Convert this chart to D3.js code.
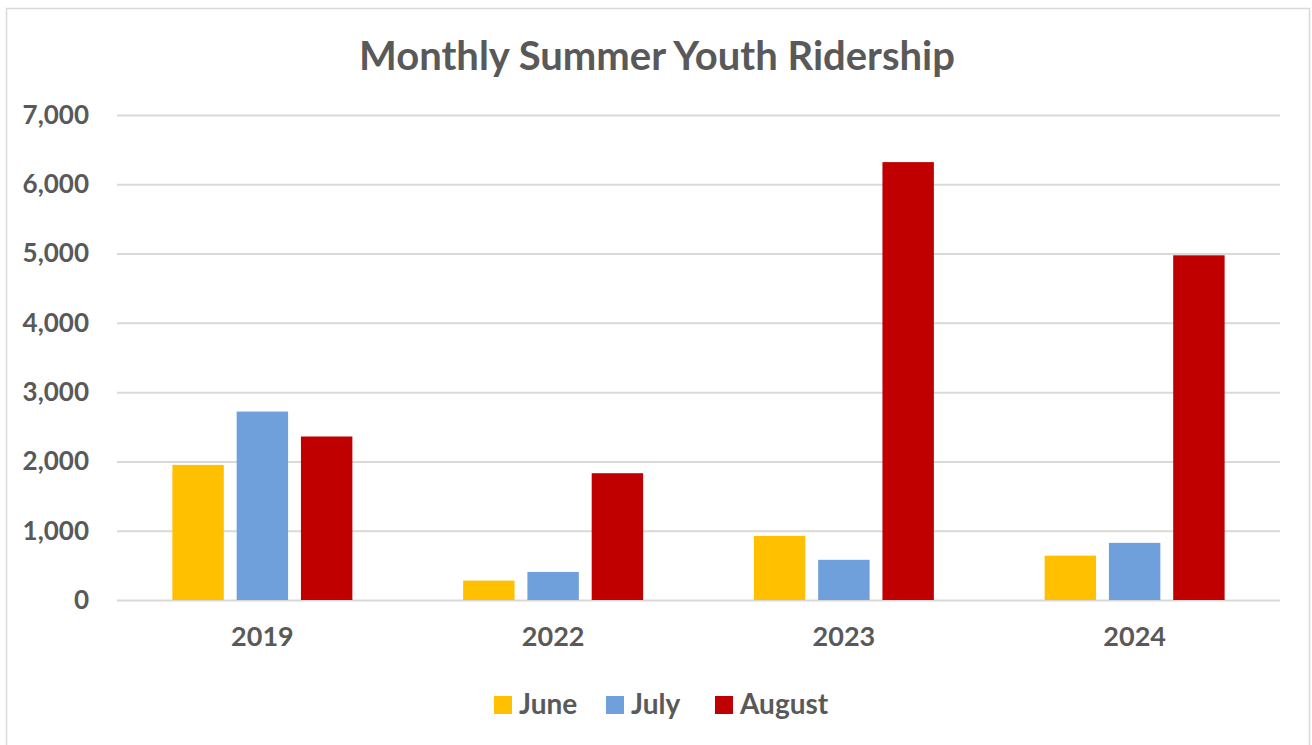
<!DOCTYPE html>
<html>
<head>
<meta charset="utf-8">
<script src="https://cdn.jsdelivr.net/npm/d3@7"></script>
<style>
  body { margin: 0; background: #fff; }
  svg text { font-family: Lato, "Open Sans", sans-serif; font-weight: bold; fill: #595959; }
</style>
</head>
<body>
<div id="chart"></div>
<script>
// data
var years = ['2019', '2022', '2023', '2024']
var months = ['June', 'July', 'August']
var june = [1950, 280, 925, 640]
var july = [2720, 405, 580, 825]
var august = [2360, 1830, 6320, 4975]
var yTicks = [0, 1000, 2000, 3000, 4000, 5000, 6000, 7000]
var colors = ['#ffc000', '#70a0db', '#c00000']

var width = 1312, height = 745
var margin = { top: 115, right: 32, bottom: 145, left: 117 }

var svg = d3.select('#chart')
  .append('svg')
  .attr('width', width)
  .attr('height', height)

// chart border
svg.append('rect')
  .attr('x', 6.5).attr('y', 8.5)
  .attr('width', 1303).attr('height', 745)
  .attr('fill', '#fff')
  .attr('stroke', '#d9d9d9')
  .attr('stroke-width', 1.5)

svg.append('text')
  .attr('x', 657)
  .attr('y', 70)
  .attr('text-anchor', 'middle')
  .style('font-size', '40px')
  .text('Monthly Summer Youth Ridership')

var xScale = d3.scaleBand()
  .domain(years)
  .range([margin.left, width - margin.right])

var xInner = d3.scaleBand()
  .domain(months)
  .range([0, 180])
  .paddingInner(0.2)

var yScale = d3.scaleLinear()
  .domain([0, 7000])
  .range([height - margin.bottom, margin.top])

// grid
var yGrid = d3.axisLeft(yScale)
  .tickValues(yTicks)
  .tickSize(-(width - margin.right - margin.left))
  .tickFormat('')

svg.append('g')
  .attr('transform', `translate(${margin.left},0)`)
  .attr('class', 'grid')
  .call(yGrid)
  .call(g => g.select('.domain').remove())
  .selectAll('line')
  .style('stroke', '#d9d9d9')
  .style('stroke-width', 2)

// y axis labels
var yAxis = d3.axisLeft(yScale)
  .tickValues(yTicks)
  .tickSize(0)
  .tickPadding(28)
  .tickFormat(d3.format(','))

svg.append('g')
  .attr('transform', `translate(${margin.left},0)`)
  .call(yAxis)
  .call(g => g.select('.domain').remove())
  .selectAll('text')
  .style('font-size', '26px')
  .style('font-family', 'Lato, sans-serif')
  .style('fill', '#595959')

// x axis labels
var xAxis = d3.axisBottom(xScale)
  .tickSize(0)
  .tickPadding(27)

svg.append('g')
  .attr('transform', `translate(0,${height - margin.bottom})`)
  .call(xAxis)
  .call(g => g.select('.domain').remove())
  .selectAll('text')
  .style('font-size', '27px')
  .style('font-family', 'Lato, sans-serif')
  .style('fill', '#595959')

// bars
var series = [june, july, august]
var groups = svg.append('g').attr('class', 'bars')
  .selectAll('g')
  .data(years)
  .enter()
  .append('g')
  .attr('transform', d => `translate(${xScale(d) + (xScale.bandwidth() - 180) / 2},0)`)

groups.selectAll('rect')
  .data((d, i) => months.map((m, j) => ({ month: m, value: series[j][i], c: colors[j] })))
  .enter()
  .append('rect')
  .attr('x', d => xInner(d.month))
  .attr('width', xInner.bandwidth())
  .attr('y', d => yScale(d.value))
  .attr('height', d => yScale(0) - yScale(d.value))
  .attr('fill', d => d.c)

// legend
var legendX = [494, 606, 715]
var legend = svg.append('g').attr('class', 'legend')
  .selectAll('g')
  .data(months)
  .enter()
  .append('g')
  .attr('transform', (d, i) => `translate(${legendX[i]},696)`)

legend.append('rect')
  .attr('width', 18)
  .attr('height', 18)
  .attr('fill', (d, i) => colors[i])

legend.append('text')
  .attr('x', 25)
  .attr('y', 18)
  .style('font-size', '28px')
  .text(d => d)
</script>
</body>
</html>
